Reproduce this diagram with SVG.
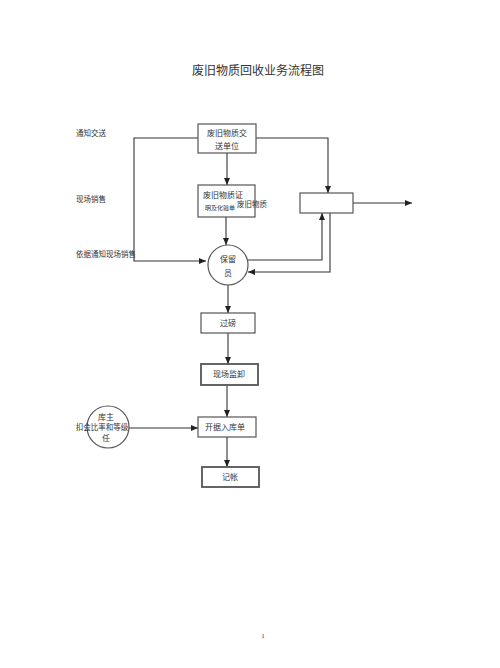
<svg xmlns="http://www.w3.org/2000/svg" width="500" height="668" viewBox="0 0 500 668">
<style>
text{font-family:"Liberation Serif","Noto Sans CJK SC",serif;fill:#333;}
.t{font-size:8px;text-anchor:middle;}
.s{font-size:6px;}
.s2{font-size:7.5px;}
.lbl{font-size:7.5px;}
.box{fill:#fff;stroke:#555;stroke-width:1.2;}
.bold{stroke-width:1.8;}
.ln{fill:none;stroke:#333;stroke-width:1.1;marker-end:url(#ah);}
</style>
<defs>
<marker id="ah" markerWidth="8" markerHeight="8" refX="7" refY="4" orient="auto" markerUnits="userSpaceOnUse"><path d="M0,1 L7,4 L0,7 Z" fill="#222"/></marker>
</defs>
<rect width="500" height="668" fill="#fff"/>
<text x="258" y="75" style="font-size:12px;text-anchor:middle;">废旧物质回收业务流程图</text>
<text class="lbl" x="76" y="136">通知交送</text>
<text class="lbl" x="76" y="202">现场销售</text>
<text class="lbl" x="76" y="257">依据通知现场销售</text>
<g id="connectors">
<path class="ln" d="M198,138 H134 V261 H206"/>
<path class="ln" d="M227,153 V185"/>
<path class="ln" d="M226,217 V245"/>
<path class="ln" d="M256,138 H328 V193"/>
<path class="ln" d="M353,203 H412"/>
<path class="ln" d="M248,260 H322 V213"/>
<path class="ln" d="M330,213 V272 H248"/>
<path class="ln" d="M228,285 V313"/>
<path class="ln" d="M228,333 V364"/>
<path class="ln" d="M227,385 V417"/>
<path class="ln" d="M227,437 V467"/>
<path class="ln" d="M129,428 H198"/>
</g>
<g id="n1"><rect class="box" x="198" y="124" width="58" height="29"/><text class="t" x="227" y="136">废旧物质交</text><text class="t" x="227" y="149">送单位</text></g>
<g id="n2"><rect class="box" x="198" y="185" width="57" height="32"/><text class="t" x="223" y="198">废旧物质证</text><text class="s" x="205" y="210">明及化验单</text><text class="s2" x="237" y="207">废旧物质</text></g>
<g id="n3"><circle cx="228" cy="265" r="20" fill="#fff" stroke="#555" stroke-width="1.2"/><text class="t" x="228" y="262">保留</text><text class="t" x="228" y="276">员</text></g>
<g id="n4"><rect class="box" x="300" y="193" width="53" height="20"/></g>
<g id="n5"><rect class="box" x="201" y="313" width="54" height="20"/><text class="t" x="228" y="326">过磅</text></g>
<g id="n6"><rect class="box bold" x="201" y="364" width="57" height="21"/><text class="t" x="229" y="377">现场监卸</text></g>
<g id="n7"><rect class="box" x="198" y="417" width="58" height="20"/><text class="t" x="225" y="430">开据入库单</text></g>
<g id="n8"><rect class="box bold" x="202" y="467" width="57" height="20"/><text class="t" x="230" y="480">记帐</text></g>
<g id="n9"><circle cx="108" cy="427" r="21" fill="#fff" stroke="#555" stroke-width="1.2"/><text class="t" x="106" y="420">库主</text><text class="s2" x="102" y="430" text-anchor="middle">扣会比率和等级</text><text class="t" x="106" y="441">任</text></g>
<text x="263" y="638" style="font-size:7px;text-anchor:middle;">1</text>
</svg>
